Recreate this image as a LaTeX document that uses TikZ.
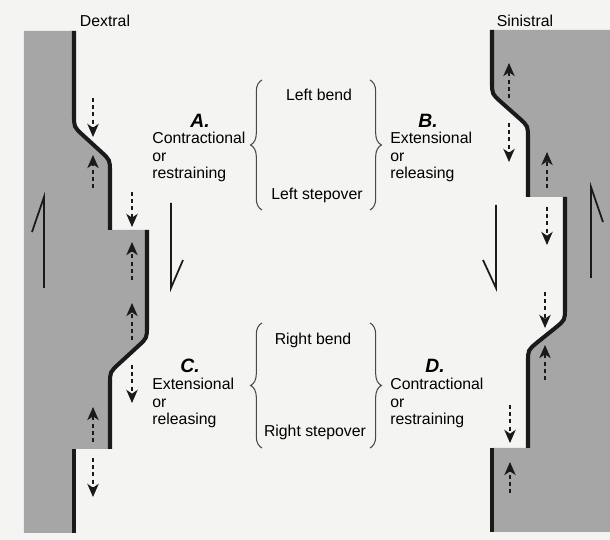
\documentclass[tikz,border=0pt]{standalone}
\usepackage{fontspec}
\setmainfont{Liberation Sans}
\usetikzlibrary{arrows.meta,decorations.pathreplacing}
\definecolor{paper}{HTML}{F4F4F2}
\definecolor{block}{HTML}{A6A6A6}
\definecolor{ink}{HTML}{1A1A1A}
\begin{document}
\begin{tikzpicture}[x=0.02cm,y=-0.02cm,
  fault/.style={draw=ink,line width=2.3pt},
  motion/.style={draw=ink,line width=0.8pt,dash pattern=on 2.3pt off 1.8pt,-{Stealth[length=7.5pt,width=6.5pt,inset=2.2pt]}},
  sense/.style={draw=ink,line width=1pt},
  bracket/.style={draw=ink!80,line width=0.6pt,decorate,decoration={brace,amplitude=6.5pt}},
  lbl/.style={font=\fontsize{9}{9.9}\selectfont,align=left,inner sep=0pt},
  letter/.style={font=\fontsize{11}{12}\selectfont\bfseries\itshape,inner sep=0pt}]
\fill[paper] (0,0) rectangle (610,540);
\useasboundingbox (0,0) rectangle (610,540);
% dextral block
\fill[block] (24,31) -- (74,31) -- (74,115) .. controls (74,127) .. (82.8,135.1) -- (101.2,151.9) .. controls (110,160) .. (110,172) -- (110,230) -- (147,230) -- (147,326) .. controls (147,338) .. (138.2,346.1) -- (118.8,363.9) .. controls (110,372) .. (110,384) -- (110,449) -- (74,449) -- (74,533) -- (24,533) -- cycle;
\draw[fault] (74,31) -- (74,115) .. controls (74,127) .. (82.8,135.1) -- (101.2,151.9) .. controls (110,160) .. (110,172) -- (110,230);
\draw[fault] (147,230) -- (147,326) .. controls (147,338) .. (138.2,346.1) -- (118.8,363.9) .. controls (110,372) .. (110,384) -- (110,449);
\draw[fault] (74,449) -- (74,533);
% sinistral block
\fill[block] (610,30) -- (492,30) -- (492,82) .. controls (492,94) .. (501,102) -- (519,118) .. controls (528,126) .. (528,138) -- (528,197) -- (565,197) -- (565,308) .. controls (565,320) .. (555.7,327.6) -- (537.3,342.4) .. controls (528,350) .. (528,362) -- (528,448) -- (492,448) -- (492,532) -- (610,532) -- cycle;
\draw[fault] (492,30) -- (492,82) .. controls (492,94) .. (501,102) -- (519,118) .. controls (528,126) .. (528,138) -- (528,197);
\draw[fault] (565,197) -- (565,308) .. controls (565,320) .. (555.7,327.6) -- (537.3,342.4) .. controls (528,350) .. (528,362) -- (528,448);
\draw[fault] (492,448) -- (492,532);
% slip sense
\draw[sense] (32,232) -- (44,197) -- (44,288);
\draw[sense] (171,203) -- (171,288) -- (183,260);
\draw[sense] (496,205) -- (496,288) -- (483,260);
\draw[sense] (591,278) -- (591,187) -- (603,222);
% block motion, dextral
\draw[motion] (93,98) -- (93,137);
\draw[motion] (93,188) -- (93,155);
\draw[motion] (132,192) -- (132,227);
\draw[motion] (132,280) -- (132,242);
\draw[motion] (132,340) -- (132,303);
\draw[motion] (132,365) -- (132,403);
\draw[motion] (93,442) -- (93,407);
\draw[motion] (93,458) -- (93,497);
% block motion, sinistral
\draw[motion] (509,98) -- (509,63);
\draw[motion] (509,123) -- (509,162);
\draw[motion] (547,188) -- (547,152);
\draw[motion] (547,207) -- (547,245);
\draw[motion] (545,292) -- (545,328);
\draw[motion] (545,380) -- (545,345);
\draw[motion] (510,405) -- (510,443);
\draw[motion] (510,493) -- (510,462);
% labels
\node[lbl] (dextral) at (105,21) {Dextral};
\node[lbl] (sinistral) at (525,21) {Sinistral};
\node[letter] (caseA) at (200,121) {A.};
\node[lbl,anchor=west] (textA) at (152,157) {Contractional\\or\\restraining};
\node[letter] (caseB) at (428,121) {B.};
\node[lbl,anchor=west] (textB) at (390,157) {Extensional\\or\\releasing};
\node[letter] (caseC) at (190,366) {C.};
\node[lbl,anchor=west] (textC) at (152,403) {Extensional\\or\\releasing};
\node[letter] (caseD) at (435,366) {D.};
\node[lbl,anchor=west] (textD) at (390,403) {Contractional\\or\\restraining};
\node[lbl] (leftbend) at (319,95) {Left bend};
\node[lbl] (leftstep) at (317,195) {Left stepover};
\node[lbl] (rightbend) at (313,340) {Right bend};
\node[lbl] (rightstep) at (315,432) {Right stepover};
\draw[bracket] (262,210) -- (262,80);
\draw[bracket] (370,80) -- (370,210);
\draw[bracket] (262,448) -- (262,323);
\draw[bracket] (370,323) -- (370,448);
\end{tikzpicture}
\end{document}
